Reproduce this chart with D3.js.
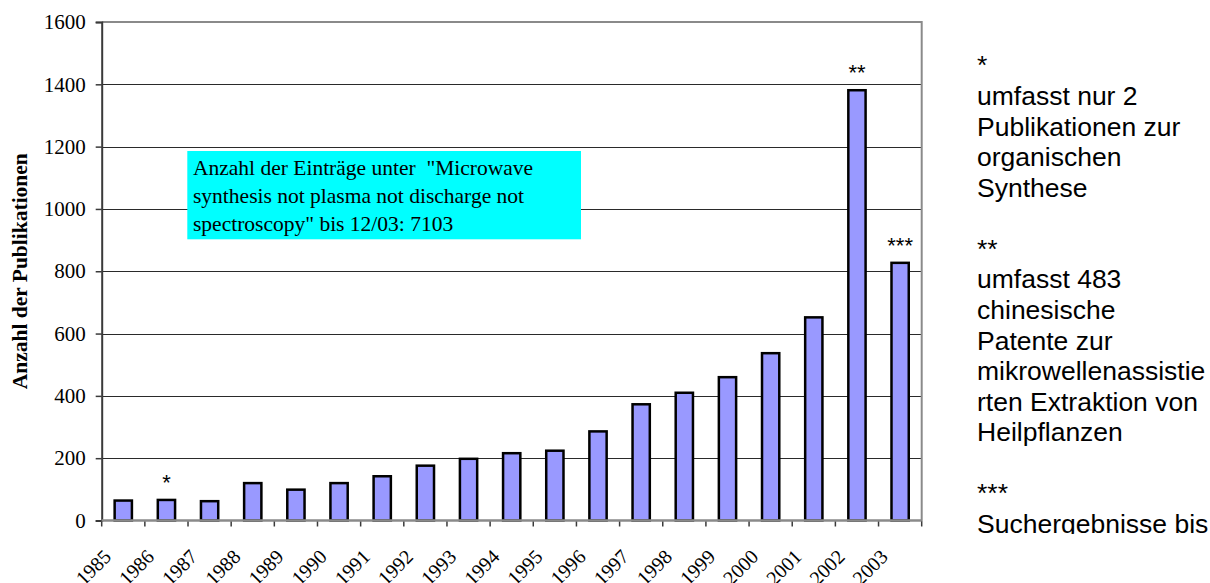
<!DOCTYPE html>
<html>
<head>
<meta charset="utf-8">
<script src="https://cdn.jsdelivr.net/npm/d3@7"></script>
<style>
  body { margin: 0; background: #fff; }
  svg { display: block; }
</style>
</head>
<body>
<svg id="chart" width="1210" height="583"></svg>
<script>
// Publications per year
const years = ["1985","1986","1987","1988","1989","1990","1991","1992","1993","1994",
               "1995","1996","1997","1998","1999","2000","2001","2002","2003"];
const counts = [64, 66, 62, 120, 99, 120, 142, 176, 198, 216,
                224, 286, 373, 410, 460, 537, 652, 1381, 827];
const yTicks = [0, 200, 400, 600, 800, 1000, 1200, 1400, 1600];

// Footnote markers placed above single bars
const noteYears = ["1986", "2002", "2003"];
const noteMarks = ["*", "**", "***"];

const yTitle = "Anzahl der Publikationen";
const boxLines = [
  "Anzahl der Einträge unter  \"Microwave",
  "synthesis not plasma not discharge not",
  "spectroscopy\" bis 12/03: 7103"
];
const footnoteLines = [
  "*", "umfasst nur 2", "Publikationen zur", "organischen", "Synthese", "",
  "**", "umfasst 483", "chinesische", "Patente zur", "mikrowellenassistie",
  "rten Extraktion von", "Heilpflanzen", "",
  "***", "Suchergebnisse bis"
];

const serif = "'Liberation Serif','Times New Roman',serif";
const sans = "'Liberation Sans',Arial,sans-serif";

const svg = d3.select("#chart");
svg.append("rect").attr("width", 1210).attr("height", 583).attr("fill", "#fff");

const plot = { left: 101.7, right: 921.7, top: 22, bottom: 520.5 };

const x = d3.scaleBand().domain(years).range([plot.left, plot.right]).padding(0);
const y = d3.scaleLinear().domain([0, 1600]).range([plot.bottom, plot.top]);
const barW = x.bandwidth() * 0.4;

// horizontal gridlines
svg.append("g")
  .selectAll("line")
  .data(yTicks.filter(t => t > 0 && t < 1600))
  .join("line")
  .attr("x1", plot.left).attr("x2", plot.right)
  .attr("y1", d => Math.round(y(d)) + 0.5)
  .attr("y2", d => Math.round(y(d)) + 0.5)
  .attr("stroke", "#2a2a2a")
  .attr("stroke-width", 1);

// plot frame: top and right edges
svg.append("path")
  .attr("d", `M${plot.left},${plot.top}H${plot.right}V${plot.bottom}`)
  .attr("fill", "none")
  .attr("stroke", "#8a8a8a")
  .attr("stroke-width", 2);

// bars
svg.append("g")
  .selectAll("rect")
  .data(years.map((yr, i) => ({ yr, v: counts[i] })))
  .join("rect")
  .attr("x", d => x(d.yr) + (x.bandwidth() - barW) / 2)
  .attr("y", d => y(d.v))
  .attr("width", barW)
  .attr("height", d => y(0) - y(d.v))
  .attr("fill", "#9999ff")
  .attr("stroke", "#000")
  .attr("stroke-width", 2.5);

// markers above bars
svg.append("g")
  .selectAll("text")
  .data(noteYears.map((yr, i) => ({ yr, mark: noteMarks[i], v: counts[years.indexOf(yr)] })))
  .join("text")
  .attr("x", d => x(d.yr) + x.bandwidth() / 2)
  .attr("y", d => y(d.v) - 10)
  .attr("text-anchor", "middle")
  .attr("font-family", sans)
  .attr("font-size", 22)
  .attr("fill", "#000")
  .text(d => d.mark);

// y axis
const yAxis = svg.append("g")
  .attr("transform", `translate(${plot.left},0)`)
  .call(d3.axisLeft(y).tickValues(yTicks).tickSize(6).tickPadding(10).tickFormat(d3.format("d")));
yAxis.select(".domain").attr("stroke", "#3a3a3a").attr("stroke-width", 2);
yAxis.selectAll(".tick line").attr("stroke", "#3a3a3a").attr("stroke-width", 1.5);
yAxis.selectAll(".tick text")
  .attr("font-family", serif).attr("font-size", 21).attr("fill", "#000");

// x axis: tick marks on category boundaries
const bounds = years.map(d => x(d)).concat([plot.right]);
svg.append("g")
  .selectAll("line")
  .data(bounds)
  .join("line")
  .attr("x1", d => d).attr("x2", d => d)
  .attr("y1", plot.bottom).attr("y2", plot.bottom + 6)
  .attr("stroke", "#3a3a3a")
  .attr("stroke-width", 1.5);

const xAxis = svg.append("g")
  .attr("transform", `translate(0,${plot.bottom})`)
  .call(d3.axisBottom(x).tickSize(0));
xAxis.select(".domain")
  .attr("d", `M${plot.left},0H${plot.right}`)
  .attr("stroke", "#8a8a8a").attr("stroke-width", 2.5);
xAxis.selectAll(".tick text")
  .attr("x", null).attr("y", null).attr("dy", null)
  .attr("text-anchor", "end")
  .attr("transform", "translate(-11,37.5) rotate(-45)")
  .attr("font-family", serif).attr("font-size", 20).attr("fill", "#000");

// y axis title
svg.append("text")
  .attr("transform", `translate(27,${(plot.top + plot.bottom) / 2}) rotate(-90)`)
  .attr("text-anchor", "middle")
  .attr("font-family", serif)
  .attr("font-weight", "bold")
  .attr("font-size", 21.5)
  .attr("fill", "#000")
  .text(yTitle);

// search-count note box
svg.append("rect")
  .attr("x", 187.3).attr("y", 151)
  .attr("width", 393.7).attr("height", 88.3)
  .attr("fill", "#00ffff");
svg.append("g")
  .selectAll("text")
  .data(boxLines)
  .join("text")
  .attr("x", 193)
  .attr("y", (d, i) => 174.5 + i * 28)
  .attr("font-family", serif)
  .attr("font-size", 21.5)
  .attr("fill", "#000")
  .style("white-space", "pre")
  .text(d => d);

// footnote column, clipped at the bottom of its text frame
svg.append("clipPath").attr("id", "noteClip")
  .append("rect").attr("x", 950).attr("y", 0).attr("width", 260).attr("height", 534);
svg.append("g")
  .attr("clip-path", "url(#noteClip)")
  .selectAll("text")
  .data(footnoteLines)
  .join("text")
  .attr("x", 977)
  .attr("y", (d, i) => 74.4 + i * 30.57)
  .attr("font-family", sans)
  .attr("font-size", 26.5)
  .attr("fill", "#000")
  .text(d => d);
</script>
</body>
</html>
